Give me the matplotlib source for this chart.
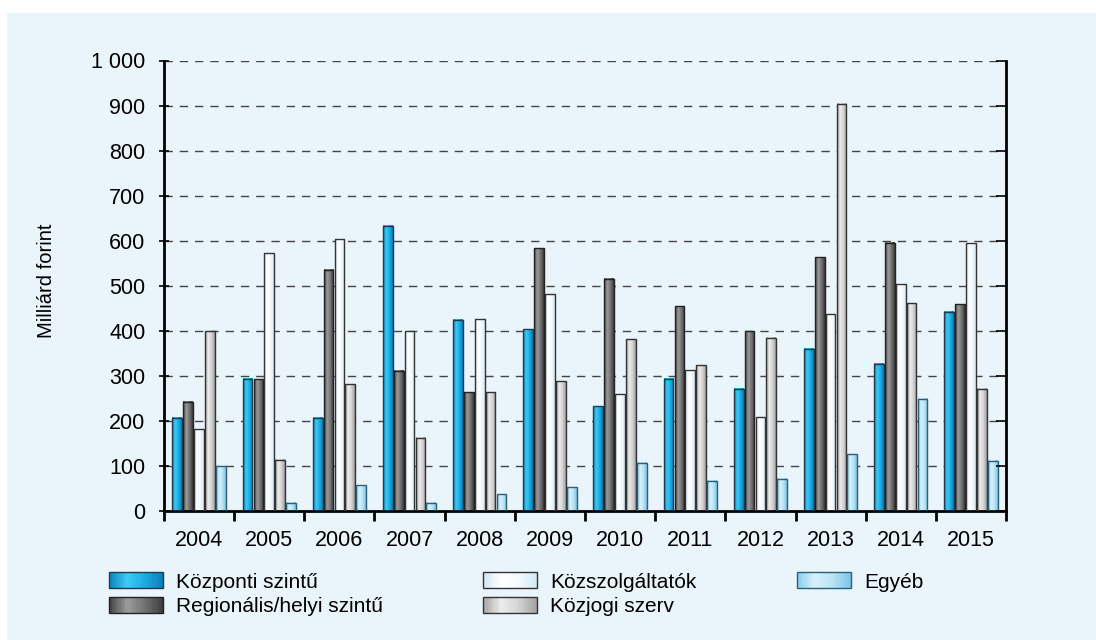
import numpy as np
import matplotlib
matplotlib.use("Agg")
import matplotlib.pyplot as plt
from matplotlib.patches import Rectangle
from matplotlib.legend_handler import HandlerBase
from matplotlib.colors import LinearSegmentedColormap

# data (Milliárd forint)
years = ["2004", "2005", "2006", "2007", "2008", "2009",
         "2010", "2011", "2012", "2013", "2014", "2015"]
kozponti = [207, 294, 207, 633, 425, 403, 232, 294, 271, 360, 327, 442]
regionalis = [242, 292, 536, 311, 264, 583, 515, 455, 399, 563, 595, 459]
kozszolg = [181, 572, 604, 399, 427, 481, 259, 314, 208, 437, 504, 595]
kozjogi = [399, 114, 281, 163, 264, 288, 381, 324, 385, 904, 461, 271]
egyeb = [99, 18, 57, 18, 37, 53, 107, 67, 72, 126, 249, 111]

series_names = ["Központi szintű", "Regionális/helyi szintű", "Közszolgáltatók",
                "Közjogi szerv", "Egyéb"]
series_values = [kozponti, regionalis, kozszolg, kozjogi, egyeb]

# horizontal gradients for the bar faces (left edge -> right edge)
gradients = [
    ["#0a86c2", "#3fcaf4", "#1ba9e0", "#0b7db6"],
    ["#444444", "#9c9c9c", "#707070", "#3c3c3c"],
    ["#cfe5f2", "#ffffff", "#f2f9fd", "#d2e8f4"],
    ["#a4a4a4", "#ececec", "#d2d2d2", "#a0a0a0"],
    ["#86cbec", "#d8f1fb", "#b8e3f5", "#7ec4e6"],
]
edge_colors = ["#1f3b4d", "#222222", "#333333", "#333333", "#2c5f78"]
cmaps = [LinearSegmentedColormap.from_list("g%d" % i, g) for i, g in enumerate(gradients)]

BG = "#eaf4fb"
plt.rcParams["font.family"] = ["Liberation Sans", "DejaVu Sans"]

fig = plt.figure(figsize=(10.96, 6.4), dpi=100)
fig.patch.set_facecolor("white")
# light blue panel with small white margin at top/left
fig.patches.append(Rectangle((7 / 1096, 0), 1, 1 - 13 / 640, transform=fig.transFigure,
                             facecolor=BG, edgecolor="none", zorder=-10))

ax = fig.add_axes([164 / 1096, 1 - 511 / 640, (1006 - 164) / 1096, (511 - 60.5) / 640])
ax.set_facecolor("none")

n_cat = len(years)
bar_w = 0.138
step = 0.155
offsets = (np.arange(5) - 2) * step
x = np.arange(n_cat)

grad_img = np.linspace(0, 1, 64).reshape(1, -1)
for s, vals in enumerate(series_values):
    for i, v in enumerate(vals):
        x0 = x[i] + offsets[s] - bar_w / 2
        ax.imshow(grad_img, cmap=cmaps[s], extent=(x0, x0 + bar_w, 0, v),
                  aspect="auto", interpolation="bilinear", zorder=2)
    ax.bar(x + offsets[s], vals, width=bar_w, facecolor="none",
           edgecolor=edge_colors[s], linewidth=1.0, zorder=3)

ax.set_xlim(-0.5, n_cat - 0.5)
ax.set_ylim(0, 1000)
ax.set_yticks(np.arange(0, 1001, 100))
ax.set_yticklabels(["0", "100", "200", "300", "400", "500", "600", "700",
                    "800", "900", "1 000"], fontsize=15.5)
ax.yaxis.grid(True, linestyle=(0, (6, 5)), color="#444444", linewidth=1.0, zorder=1)
ax.set_axisbelow(True)

# x: labels centered, ticks at category boundaries
ax.set_xticks(x)
ax.set_xticklabels(years, fontsize=15.5)
ax.tick_params(axis="x", which="major", length=0, pad=14)
ax.set_xticks(np.arange(-0.5, n_cat, 1), minor=True)
ax.tick_params(axis="x", which="minor", length=7, width=2, direction="out", color="black")
ax.tick_params(axis="y", length=7, width=1.2, direction="inout", pad=10)

for side in ["left", "bottom", "right"]:
    ax.spines[side].set_linewidth(2)
    ax.spines[side].set_color("black")
ax.spines["top"].set_visible(False)

# right-hand inward ticks
ax2 = ax.twinx()
ax2.set_ylim(0, 1000)
ax2.set_yticks(np.arange(0, 1001, 100))
ax2.tick_params(axis="y", direction="in", length=7, width=1.2, labelright=False)
for sp in ax2.spines.values():
    sp.set_visible(False)

ax.set_ylabel("Milliárd forint", fontsize=14.5)
ax.yaxis.set_label_coords(-0.128, 0.512)


class GradientHandler(HandlerBase):
    def __init__(self, cmap, edge):
        super().__init__()
        self.cmap = cmap
        self.edge = edge

    def create_artists(self, legend, orig_handle, xdescent, ydescent, width, height,
                       fontsize, trans):
        artists = []
        n = 24
        for k in range(n):
            artists.append(Rectangle((-xdescent + width * k / n, -ydescent), width / n + 0.3,
                                     height, facecolor=self.cmap((k + 0.5) / n),
                                     edgecolor="none", transform=trans))
        artists.append(Rectangle((-xdescent, -ydescent), width, height, facecolor="none",
                                 edgecolor=self.edge, linewidth=1.0, transform=trans))
        return artists


handles = [Rectangle((0, 0), 1, 1) for _ in series_names]
handler_map = {h: GradientHandler(cmaps[k], edge_colors[k]) for k, h in enumerate(handles)}
fig.legend(handles, series_names, handler_map=handler_map, ncol=3,
           loc="upper left", bbox_to_anchor=(103 / 1096, 1 - 566 / 640),
           frameon=False, fontsize=15, handlelength=2.6, handleheight=0.82,
           handletextpad=0.62, columnspacing=4.8, labelspacing=0.25,
           borderaxespad=0, borderpad=0.3)

fig.savefig("out.png", dpi=100, facecolor=fig.get_facecolor())
